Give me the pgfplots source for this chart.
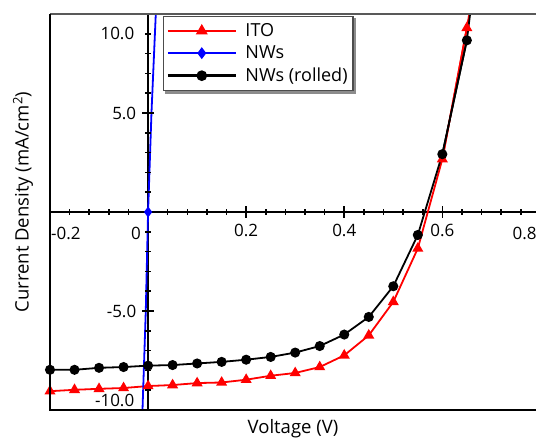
\documentclass[border=0pt]{standalone}
\usepackage{fontspec}
\setmainfont{Open Sans}
\usepackage{pgfplots}
\pgfplotsset{compat=1.18}
\usetikzlibrary{backgrounds}
\definecolor{itored}{RGB}{255,0,0}
\definecolor{nwblue}{RGB}{0,0,255}
\begin{document}
\fontsize{17bp}{20bp}\selectfont
\begin{tikzpicture}
\begin{axis}[
  clip=false,
  scale only axis, width=486bp, height=396bp,
  xmin=-0.2, xmax=0.791, ymin=-10, ymax=10,
  axis lines=middle,
  axis line style={-, black, line width=1.4bp},
  tick align=center,
  major tick length=12bp, minor tick length=6bp,
  tick style={black, line width=1.6bp},
  xtick={0,0.2,0.4,0.6}, xticklabels={,0.2,0.4,0.6},
  ytick={-10,-5,0,5,10}, yticklabels={,-5.0,,5.0,},
  minor x tick num=4, minor y tick num=4,
  xticklabel style={font=\fontsize{17bp}{20bp}\selectfont},
  yticklabel style={font=\fontsize{17bp}{20bp}\selectfont},
  xlabel={Voltage (V)},
  ylabel={Current Density (mA/cm\textsuperscript{2})},
  xlabel style={at={([yshift=-19bp]rel axis cs:0.5,0)}, anchor=center, font=\fontsize{18.5bp}{22bp}\selectfont},
  ylabel style={at={([xshift=-27bp,yshift=10bp]rel axis cs:0,0.5)}, anchor=center, rotate=90, font=\fontsize{18.5bp}{22bp}\selectfont},
  legend style={name=leg, at={(0.2325,0.995)}, anchor=north west, draw=black!70, line width=1.2bp,
    fill=white, font=\fontsize{18bp}{22bp}\selectfont, row sep=1.5bp, column sep=6bp,
    inner xsep=3bp, inner ysep=4bp,
    nodes={inner xsep=2.5bp, inner ysep=2.6bp}},
  legend cell align=left,
  legend image code/.code={\draw[mark repeat=2,mark phase=2, line width=2.4bp] plot coordinates {(0bp,0bp) (34bp,0bp) (68bp,0bp)};},
]
\addplot[itored, line width=1.8bp, forget plot] coordinates {
(0.60,2.67) (0.65,9.3) (0.655,10)
};
\addplot[itored, line width=1.8bp, mark=triangle*, mark size=4.6bp] coordinates {
(-0.20,-9.05) (-0.15,-8.98) (-0.10,-8.93) (-0.05,-8.89) (0.00,-8.79) (0.05,-8.74)
(0.10,-8.64) (0.15,-8.61) (0.20,-8.47) (0.25,-8.27) (0.30,-8.13) (0.35,-7.83)
(0.40,-7.24) (0.45,-6.23) (0.50,-4.54) (0.55,-1.84) (0.60,2.67) (0.65,9.3)
};
\addlegendentry{ITO}
\addplot[nwblue, line width=1.8bp, forget plot] coordinates {
(-0.0114,-10) (-0.0047,-5) (0,0) (0.0069,5) (0.0157,10)
};
\addplot[nwblue, line width=1.8bp, mark=diamond*, mark size=4bp] coordinates {(0,0)};
\addlegendentry{NWs}
\addplot[black, line width=1.8bp, forget plot] coordinates {
(0.60,2.92) (0.65,8.67) (0.6566,10)
};
\addplot[black, line width=1.8bp, mark=*, mark size=4.1bp] coordinates {
(-0.20,-7.97) (-0.15,-7.97) (-0.10,-7.87) (-0.05,-7.83) (0.00,-7.76) (0.05,-7.73)
(0.10,-7.65) (0.15,-7.57) (0.20,-7.46) (0.25,-7.32) (0.30,-7.10) (0.35,-6.77)
(0.40,-6.19) (0.45,-5.30) (0.50,-3.75) (0.55,-1.16) (0.60,2.92) (0.65,8.67)
};
\addlegendentry{NWs (rolled)}
\coordinate (SW) at (rel axis cs:0,0);
\coordinate (NE) at (rel axis cs:1,1);
\coordinate (NW) at (rel axis cs:0,1);
\coordinate (SE) at (rel axis cs:1,0);
\coordinate (O) at (axis cs:0,0);
\coordinate (Y9) at (axis cs:0,9);
\coordinate (Ym) at (axis cs:0,-9.5);
\coordinate (Xm) at (axis cs:-0.2,0);
\coordinate (X8) at (axis cs:0.768,0);
\end{axis}
\begin{scope}[on background layer]
\fill[black!45] ([shift={(2.5bp,-2.5bp)}]leg.south west) rectangle ([shift={(2.5bp,-2.5bp)}]leg.north east);
\end{scope}
\foreach \k in {-4,-3,-2,-1,1,2,3,4,6,7,8,9,11,12,13,14,16,17,18,19}{
  \pgfmathsetmacro{\dx}{\k*19.6165}
  \draw[black, line width=1.6bp] (O) ++(\dx bp,-3bp) -- ++(0bp,6bp);}
\foreach \k in {5,10,15}{
  \pgfmathsetmacro{\dx}{\k*19.6165}
  \draw[black, line width=1.6bp] (O) ++(\dx bp,-6bp) -- ++(0bp,12bp);}
\foreach \k in {-9,-8,-7,-6,-4,-3,-2,-1,1,2,3,4,6,7,8,9}{
  \pgfmathsetmacro{\dy}{\k*19.8}
  \draw[black, line width=1.6bp] (O) ++(-3bp,\dy bp) -- ++(6bp,0bp);}
\foreach \k in {-5,5}{
  \pgfmathsetmacro{\dy}{\k*19.8}
  \draw[black, line width=1.6bp] (O) ++(-6bp,\dy bp) -- ++(12bp,0bp);}
\draw[black!65, line width=1.6bp] (NW) -- (NE);
\draw[black, line width=1.6bp] (NW) -- (SW) -- (SE);
\node[anchor=center] at ([xshift=-12bp,yshift=-21bp]O) {0};
\node[anchor=east] at ([xshift=-8bp]Y9) {10.0};
\node[anchor=east] at ([xshift=-8bp]Ym) {-10.0};
\node[anchor=west, inner sep=0pt] at ([xshift=1bp,yshift=-21bp]Xm) {-0.2};
\node[anchor=center] at ([yshift=-21bp]X8) {0.8};
\pgfresetboundingbox
\path ([shift={(-50bp,-30bp)}]SW) rectangle ([shift={(0bp,14bp)}]NE);
\end{tikzpicture}
\end{document}
